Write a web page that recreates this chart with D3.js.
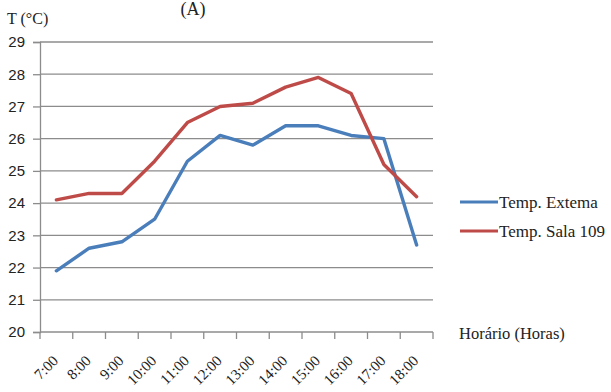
<!DOCTYPE html>
<html>
<head>
<meta charset="utf-8">
<script src="https://cdn.jsdelivr.net/npm/d3@7"></script>
<style>
  html, body { margin: 0; padding: 0; background: #fff; }
  svg { display: block; }
  text { font-family: "Liberation Serif", "Times New Roman", serif; fill: #222; }
  .ytick text { font-family: "Liberation Sans", Arial, sans-serif; }
</style>
</head>
<body>
<svg id="chart" width="611" height="392"></svg>
<script>
// Hourly temperature readings
const hours = ["7:00","8:00","9:00","10:00","11:00","12:00","13:00","14:00","15:00","16:00","17:00","18:00"];
const tempExterna = [21.9, 22.6, 22.8, 23.5, 25.3, 26.1, 25.8, 26.4, 26.4, 26.1, 26.0, 22.7];
const tempSala109 = [24.1, 24.3, 24.3, 25.3, 26.5, 27.0, 27.1, 27.6, 27.9, 27.4, 25.2, 24.2];
const yTicks = [20, 21, 22, 23, 24, 25, 26, 27, 28, 29];
const seriesNames = ["Temp. Extema", "Temp. Sala 109"];
const seriesColors = ["#4a7ebb", "#be4b48"];

const svg = d3.select("#chart");
const plot = { left: 40, right: 433, top: 42, bottom: 332 };

const x = d3.scaleBand().domain(hours).range([plot.left, plot.right]);
const y = d3.scaleLinear().domain([20, 29]).range([plot.bottom, plot.top]);

// Horizontal gridlines
svg.append("g")
  .selectAll("line")
  .data(yTicks.filter(d => d > 20))
  .join("line")
  .attr("x1", plot.left).attr("x2", plot.right)
  .attr("y1", d => y(d)).attr("y2", d => y(d))
  .attr("stroke", "#8c8c8c").attr("stroke-width", 1.3);

// Y axis
const yAxis = svg.append("g")
  .attr("class", "ytick")
  .attr("transform", `translate(${plot.left},0)`)
  .call(d3.axisLeft(y).tickValues(yTicks).tickSize(7).tickPadding(8).tickFormat(d3.format("d")));
yAxis.select(".domain").attr("stroke", "#8c8c8c").attr("stroke-width", 1.3);
yAxis.selectAll(".tick line").attr("stroke", "#8c8c8c").attr("stroke-width", 1.3);
yAxis.selectAll(".tick text")
  .attr("font-size", 15)
  .attr("fill", "#222");

// X axis with tick marks at band boundaries
const xBase = svg.append("g").attr("transform", `translate(0,${plot.bottom})`);
xBase.append("line")
  .attr("x1", plot.left).attr("x2", plot.right)
  .attr("stroke", "#8c8c8c").attr("stroke-width", 1.3);
const bounds = hours.map(h => x(h)).concat([x(hours[hours.length - 1]) + x.bandwidth()]);
xBase.selectAll("line.tk")
  .data(bounds)
  .join("line")
  .attr("class", "tk")
  .attr("x1", d => d).attr("x2", d => d)
  .attr("y1", 0).attr("y2", 7)
  .attr("stroke", "#8c8c8c").attr("stroke-width", 1.3);
xBase.selectAll("text")
  .data(hours)
  .join("text")
  .attr("transform", d => `translate(${x(d) + x.bandwidth() / 2 - 1},${26}) rotate(-45)`)
  .attr("text-anchor", "end")
  .attr("dy", "0.35em")
  .attr("font-size", 15)
  .text(d => d);

// Series lines
const line = d3.line()
  .x((d, i) => x(hours[i]) + x.bandwidth() / 2)
  .y(d => y(d));

[tempExterna, tempSala109].forEach((vals, k) => {
  svg.append("path")
    .datum(vals)
    .attr("fill", "none")
    .attr("stroke", seriesColors[k])
    .attr("stroke-width", 3.4)
    .attr("stroke-linejoin", "round")
    .attr("stroke-linecap", "round")
    .attr("d", line);
});

// Legend
const legend = svg.append("g").attr("transform", "translate(460,202)");
seriesNames.forEach((name, k) => {
  const g = legend.append("g").attr("transform", `translate(0,${k * 29})`);
  g.append("line")
    .attr("x1", 0).attr("x2", 38)
    .attr("stroke", seriesColors[k]).attr("stroke-width", 3);
  g.append("text")
    .attr("x", 39).attr("dy", "0.35em")
    .attr("font-size", 17)
    .text(name);
});

// Axis titles
svg.append("text")
  .attr("x", 7).attr("y", 24)
  .attr("font-size", 16)
  .text("T (°C)");

svg.append("text")
  .attr("x", 459).attr("y", 339)
  .attr("font-size", 16.5)
  .text("Horário (Horas)");

// Panel label
svg.append("text")
  .attr("x", 193).attr("y", 15)
  .attr("text-anchor", "middle")
  .attr("font-size", 18)
  .text("(A)");
</script>
</body>
</html>
